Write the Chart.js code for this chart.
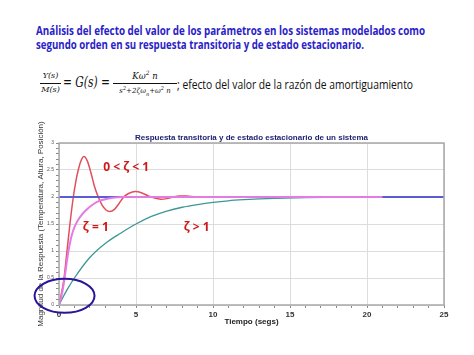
<!DOCTYPE html>
<html><head><meta charset="utf-8">
<script src="https://cdn.jsdelivr.net/npm/chart.js@4/dist/chart.umd.min.js"></script>
<style>
html,body{margin:0;padding:0;background:#fff;width:474px;height:355px;overflow:hidden;position:relative;font-family:"Liberation Sans",Arial,sans-serif}
.abs{position:absolute;white-space:nowrap;transform-origin:0 0}
.h{color:#2a22c8;font-weight:bold;font-size:13px;font-family:"Open Sans","Liberation Sans",sans-serif;line-height:14px}
.m{font-family:"DejaVu Serif","Liberation Serif",serif;font-style:italic;color:#111}
#cw{position:absolute;left:0;top:118px;width:474px;height:237px}
</style></head><body>
<div class="abs h" id="h1" style="left:36px;top:23px">Análisis del efecto del valor de los parámetros en los sistemas modelados como</div>
<div class="abs h" id="h2" style="left:36px;top:37px">segundo orden en su respuesta transitoria y de estado estacionario.</div>

<div class="abs m" id="f1" style="left:40px;top:71px;font-size:8px;width:21px;text-align:center">Y(s)</div>
<div class="abs" style="left:40px;top:83px;width:21px;height:1px;background:#111"></div>
<div class="abs m" id="f2" style="left:40px;top:85px;font-size:8px;width:21px;text-align:center">M(s)</div>
<div class="abs m" id="f3" style="left:63px;top:74px;font-size:14px">= G(s) =</div>
<div class="abs m" id="f4" style="left:113px;top:69px;font-size:8.5px;width:64px;text-align:center">Kω<sup style="font-size:6px">2</sup> n</div>
<div class="abs" style="left:113px;top:83px;width:64px;height:1px;background:#111"></div>
<div class="abs m" id="f5" style="left:113px;top:85px;font-size:7px;width:64px;text-align:center">s<sup style="font-size:5px">2</sup>+2ζω<sub style="font-size:5px">n</sub>+ω<sup style="font-size:5px">2</sup> n</div>
<div class="abs" id="f6" style="left:177px;top:75px;font-size:13px;color:#111;font-family:'Open Sans','Liberation Sans',sans-serif">; efecto del valor de la razón de amortiguamiento</div>

<div id="cw"><canvas id="c" width="474" height="237"></canvas></div>
<script>
// ---- data ----
const blueT = [0, 25];
const blueV = [2, 2];
const redT = [0,0.15,0.33,0.52,0.71,0.93,1.1,1.25,1.4,1.62,1.85,2.1,2.3,2.55,2.8,3.05,3.3,3.6,3.9,4.2,4.55,4.95,5.35,5.8,6.2,6.6,7.0,7.4,7.8,8.3,8.8,9.5,10.5];
const redV = [0,0.2,0.5,1.0,1.5,2.0,2.3,2.5,2.65,2.75,2.66,2.42,2.2,2.0,1.85,1.76,1.73,1.77,1.88,2.0,2.07,2.1,2.08,2.02,1.98,1.96,1.97,2.0,2.02,2.02,2.0,1.995,2.0];
const magT = [0,0.15,0.3,0.45,0.6,0.75,0.9,1.06,1.25,1.45,1.7,2.0,2.3,2.55,3.0,3.5,4.0,21];
const magV = [0,0.15,0.38,0.68,0.98,1.2,1.36,1.48,1.58,1.66,1.74,1.82,1.88,1.92,1.96,1.985,2.0,2.0];
const tealT = [0,0.5,1,2,3,4,5,6,7,8,9,10,11,12,13,14,16,18,20,25];
const tealV = [0,0.27,0.5,0.88,1.14,1.33,1.5,1.64,1.74,1.81,1.86,1.9,1.93,1.95,1.965,1.975,1.99,1.995,2.0,2.0];
const xMajor = [0,5,10,15,20,25];
const yMajor = [0,0.5,1,1.5,2,2.5,3];
const chartTitle = "Respuesta transitoria y de estado estacionario de un sistema";
const xTitle = "Tiempo (segs)";
const yTitle = "Magnitud de la Respuesta (Temperatura, Altura, Posición)";
const labels = [
  {text:"0 < ζ < 1", t:2.87, v:2.55},
  {text:"ζ = 1", t:1.55, v:1.43},
  {text:"ζ > 1", t:8.1, v:1.43}
];
const ellipseAt = {t:0.1, v:0.17};

// fit header lines to reference widths
function fit(id, w){const e=document.getElementById(id);const r=e.getBoundingClientRect().width;e.style.transform='scaleX('+(w/r)+')';}
fit('h1',389); fit('h2',328); fit('f6',236); fit('f3',47);

const pts=(T,V)=>T.map((t,i)=>({x:t,y:V[i]}));
const isMaj=(v,arr)=>arr.some(a=>Math.abs(a-v)<1e-6);

const deco = {
  id:'deco',
  afterDraw(chart){
    const {ctx, chartArea:a, scales:{x,y}} = chart;
    ctx.save();
    ctx.strokeStyle='#a8a8a8'; ctx.lineWidth=1.5;
    ctx.strokeRect(a.left,a.top,a.right-a.left,a.bottom-a.top);
    ctx.fillStyle='#1c1c70'; ctx.font='bold 8px "Liberation Sans", Arial';
    ctx.textAlign='center'; ctx.textBaseline='middle';
    ctx.fillText(chartTitle,(a.left+a.right)/2,a.top-5);
    ctx.fillStyle='#d01818'; ctx.font='bold 12px "Open Sans","Liberation Sans",sans-serif';
    ctx.textAlign='left';
    labels.forEach(l=>ctx.fillText(l.text,x.getPixelForValue(l.t),y.getPixelForValue(l.v)));
    ctx.strokeStyle='#2a1498'; ctx.lineWidth=2;
    ctx.beginPath();
    ctx.ellipse(x.getPixelForValue(ellipseAt.t)+4,y.getPixelForValue(ellipseAt.v),30,17,0,0,Math.PI*2);
    ctx.stroke();
    ctx.restore();
  }
};

new Chart(document.getElementById('c'),{
  type:'line',
  data:{datasets:[
    {data:pts(magT,magV),borderColor:'#e47ae4',borderWidth:2,order:0},
    {data:pts(blueT,blueV),borderColor:'#5c5cd2',borderWidth:2,order:1},
    {data:pts(redT,redV),borderColor:'#e0505c',borderWidth:1.5,order:2},
    {data:pts(tealT,tealV),borderColor:'#3e9696',borderWidth:1.3,order:3}
  ]},
  options:{
    responsive:false,animation:false,
    elements:{point:{radius:0},line:{cubicInterpolationMode:'monotone',fill:false}},
    layout:{padding:{top:25,right:30,left:0,bottom:0}},
    plugins:{legend:{display:false},tooltip:{enabled:false},title:{display:false}},
    scales:{
      x:{type:'linear',min:0,max:25,
        afterFit(s){s.height=50;},
        ticks:{stepSize:1,autoSkip:false,maxRotation:0,padding:2,color:'#333',
          font:{size:8,weight:'bold',family:'"Liberation Sans", Arial'},
          callback:v=>isMaj(v,xMajor)?String(v):''},
        grid:{color:c=>isMaj(c.tick.value,xMajor)?'#dcdcdc':'rgba(0,0,0,0)',tickColor:'#888',tickLength:3,lineWidth:1},
        border:{display:false},
        title:{display:true,text:xTitle,color:'#222',font:{size:8,weight:'bold',family:'"Liberation Sans", Arial'},padding:{top:0,bottom:28}}
      },
      y:{type:'linear',min:0,max:3,
        afterFit(s){s.width=59;},
        ticks:{stepSize:0.1,autoSkip:false,padding:2,color:'#555',
          font:{size:5,family:'"Liberation Sans", Arial'},
          callback:v=>isMaj(v,yMajor)?String(Math.round(v*10)/10):''},
        grid:{color:c=>isMaj(c.tick.value,yMajor)?'#dcdcdc':'rgba(0,0,0,0)',tickColor:'#888',tickLength:3,lineWidth:1},
        border:{display:false},
        title:{display:true,text:yTitle,color:'#333',font:{size:8,family:'"Liberation Sans", Arial'},padding:{top:36,bottom:0}}
      }
    }
  },
  plugins:[deco]
});
</script>
</body></html>
